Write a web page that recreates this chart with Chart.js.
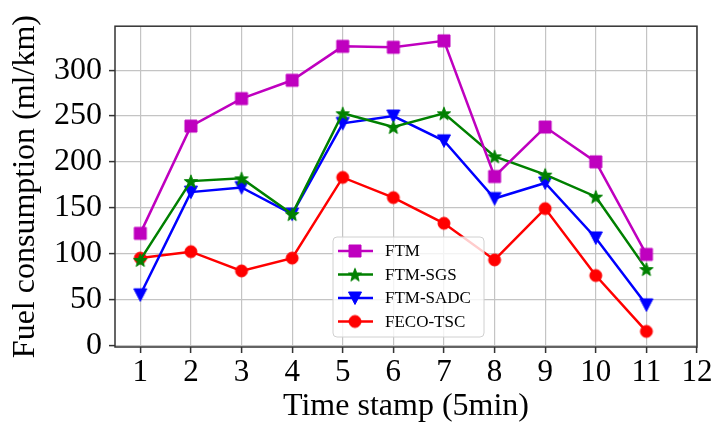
<!DOCTYPE html>
<html><head><meta charset="utf-8">
<script src="https://cdn.jsdelivr.net/npm/chart.js"></script>
<style>html,body{margin:0;padding:0;background:#fff}#wrap{width:714px;height:429px}</style>
</head><body><div id="wrap"><canvas id="c" width="714" height="429"></canvas></div>
<script>
const timeStamps = [1, 2, 3, 4, 5, 6, 7, 8, 9, 10, 11];
const ftm      = [122, 239, 269, 289, 326, 325, 332, 184, 238, 200, 99];
const ftmSgs   = [93, 179, 182, 143, 253, 238, 253, 206, 186, 162, 83];
const ftmSadc  = [55, 167, 172, 143, 242, 250, 223, 160, 177, 117, 44];
const fecoTsc  = [95, 102, 81, 95, 183, 161, 133, 93, 149, 76, 15];
const xTickLabels = [1, 2, 3, 4, 5, 6, 7, 8, 9, 10, 11, 12];
const yTickLabels = [0, 50, 100, 150, 200, 250, 300];
const seriesNames = ['FTM', 'FTM-SGS', 'FTM-SADC', 'FECO-TSC'];
const xTitle = 'Time stamp (5min)';
const yTitle = 'Fuel consumption (ml/km)';

const FONT = '"Liberation Serif", "DejaVu Serif", serif';
const colors = ['#bf00bf', '#008000', '#0000ff', '#ff0000'];
const markerTypes = ['square', 'star', 'tridown', 'circle'];
const seriesValues = [ftm, ftmSgs, ftmSadc, fecoTsc];

function drawMarker(ctx, type, x, y, color) {
  ctx.save();
  ctx.fillStyle = color; ctx.strokeStyle = color; ctx.lineWidth = 1;
  ctx.beginPath();
  if (type === 'square') {
    ctx.rect(x - 6, y - 6, 12, 12);
  } else if (type === 'circle') {
    ctx.arc(x, y, 6, 0, Math.PI * 2);
  } else if (type === 'tridown') {
    ctx.moveTo(x - 6.5, y - 6); ctx.lineTo(x + 6.5, y - 6); ctx.lineTo(x, y + 6.5); ctx.closePath();
  } else if (type === 'star') {
    const R = 7, r = 2.9;
    for (let i = 0; i < 10; i++) {
      const a = -Math.PI / 2 + i * Math.PI / 5;
      const rr = i % 2 === 0 ? R : r;
      const px = x + rr * Math.cos(a), py = y + rr * Math.sin(a) + 0.8;
      if (i === 0) ctx.moveTo(px, py); else ctx.lineTo(px, py);
    }
    ctx.closePath();
  }
  ctx.fill(); ctx.stroke();
  ctx.restore();
}
function markerCanvas(type, color) {
  const c = document.createElement('canvas'); c.width = 20; c.height = 20;
  drawMarker(c.getContext('2d'), type, 10, 10, color);
  return c;
}
const markerImgs = markerTypes.map((t, i) => markerCanvas(t, colors[i]));

const datasets = seriesNames.map((name, i) => ({
  label: name,
  data: timeStamps.map((t, k) => ({ x: t, y: seriesValues[i][k] })),
  borderColor: colors[i],
  backgroundColor: colors[i],
  borderWidth: 2.5,
  pointStyle: markerImgs[i],
  pointRadius: 7,
  fill: false,
  tension: 0
}));

const framePlugin = {
  id: 'frame',
  afterDatasetsDraw(chart) {
    const { ctx, chartArea: a } = chart;
    ctx.save();
    ctx.strokeStyle = '#333'; ctx.lineWidth = 1.5;
    ctx.strokeRect(a.left, a.top, a.right - a.left, a.bottom - a.top);
    ctx.restore();
  }
};
const legendPlugin = {
  id: 'customLegend',
  afterDraw(chart) {
    const ctx = chart.ctx;
    const bx = 333, by = 237, bw = 151, bh = 100, rad = 4;
    ctx.save();
    ctx.beginPath();
    ctx.moveTo(bx + rad, by); ctx.lineTo(bx + bw - rad, by); ctx.quadraticCurveTo(bx + bw, by, bx + bw, by + rad);
    ctx.lineTo(bx + bw, by + bh - rad); ctx.quadraticCurveTo(bx + bw, by + bh, bx + bw - rad, by + bh);
    ctx.lineTo(bx + rad, by + bh); ctx.quadraticCurveTo(bx, by + bh, bx, by + bh - rad);
    ctx.lineTo(bx, by + rad); ctx.quadraticCurveTo(bx, by, bx + rad, by);
    ctx.closePath();
    ctx.fillStyle = 'rgba(255,255,255,0.8)'; ctx.fill();
    ctx.strokeStyle = '#d0d0d0'; ctx.lineWidth = 1; ctx.stroke();
    const rows = [251, 274.5, 298, 321.5];
    ctx.font = '17px ' + FONT; ctx.textBaseline = 'middle'; ctx.textAlign = 'left';
    seriesNames.forEach((name, i) => {
      const y = rows[i];
      ctx.strokeStyle = colors[i]; ctx.lineWidth = 2.5;
      ctx.beginPath(); ctx.moveTo(338, y); ctx.lineTo(373, y); ctx.stroke();
      ctx.drawImage(markerImgs[i], 355 - 10, y - 10);
      ctx.fillStyle = '#000';
      ctx.fillText(name, 385, y + 1);
    });
    ctx.restore();
  }
};

new Chart(document.getElementById('c'), {
  type: 'line',
  data: { datasets },
  options: {
    responsive: false, animation: false, devicePixelRatio: 1,
    layout: { padding: { top: 21, right: 17, left: 0, bottom: 0 } },
    plugins: { legend: { display: false }, tooltip: { enabled: false } },
    scales: {
      x: {
        type: 'linear', min: 0.5, max: 12,
        afterBuildTicks: s => { s.ticks = xTickLabels.map(v => ({ value: v })); },
        afterFit: s => { s.height = 82; },
        ticks: { color: '#000', font: { family: FONT, size: 31 }, padding: 1, maxRotation: 0, autoSkip: false,
                 callback: v => String(v) },
        grid: { color: '#c4c4c4', lineWidth: 1.2, tickColor: '#333', tickLength: 6, tickWidth: 1.5 },
        border: { display: false },
        title: { display: true, text: xTitle, color: '#000', font: { family: FONT, size: 32 }, padding: { top: 0, bottom: 3 } }
      },
      y: {
        type: 'linear', min: -2, max: 348,
        afterBuildTicks: s => { s.ticks = yTickLabels.map(v => ({ value: v })); },
        afterFit: s => { s.width = 115; },
        ticks: { color: '#000', font: { family: FONT, size: 32 }, padding: 7, autoSkip: false,
                 callback: v => String(v) },
        grid: { color: '#c4c4c4', lineWidth: 1.2, tickColor: '#333', tickLength: 6, tickWidth: 1.5 },
        border: { display: false },
        title: { display: true, text: yTitle, color: '#000', font: { family: FONT, size: 32 }, padding: { top: 6, bottom: 0 } }
      }
    }
  },
  plugins: [framePlugin, legendPlugin]
});
</script></body></html>
